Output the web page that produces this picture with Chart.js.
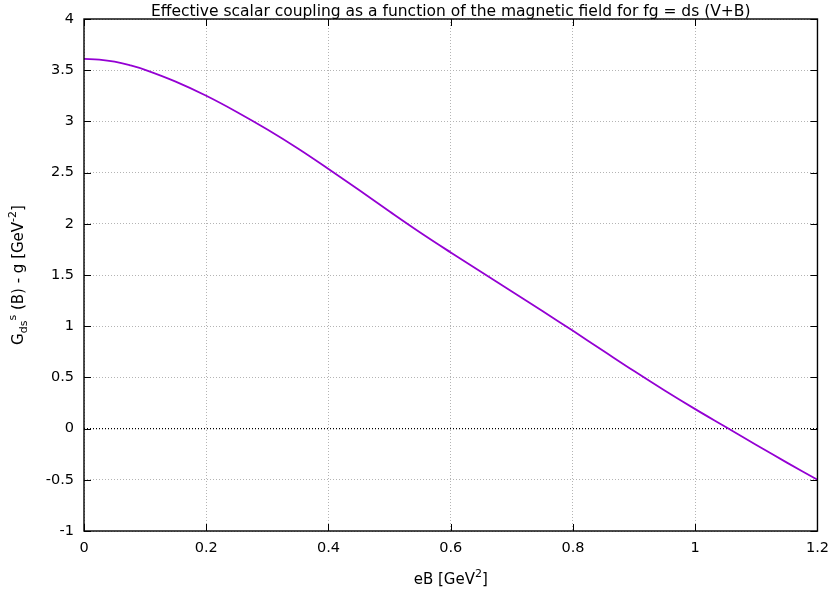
<!DOCTYPE html>
<html>
<head>
<meta charset="utf-8">
<script src="https://cdn.jsdelivr.net/npm/chart.js@4"></script>
<style>
  html, body { margin: 0; padding: 0; background: #fff; }
  #wrap { width: 838px; height: 594px; }
</style>
</head>
<body>
<div id="wrap"><canvas id="grafico"></canvas></div>
<script>
// eB em GeV^2 e acoplamento efetivo G - g em GeV^-2
const ebValues = [0, 0.025, 0.05, 0.075, 0.1, 0.15, 0.2, 0.25, 0.3, 0.35, 0.4, 0.45, 0.5, 0.55,
    0.6, 0.65, 0.7, 0.75, 0.8, 0.85, 0.9, 0.95, 1.0, 1.05, 1.1, 1.15, 1.2];
const couplingValues = [3.61, 3.603, 3.583, 3.548, 3.503, 3.388, 3.25, 3.092, 2.92, 2.735, 2.535, 2.33, 2.12, 1.915,
    1.72, 1.53, 1.34, 1.148, 0.955, 0.758, 0.562, 0.372, 0.19, 0.015, -0.16, -0.332, -0.5];
const xTickValues = [0, 0.2, 0.4, 0.6, 0.8, 1.0, 1.2];
const yTickValues = [-1, -0.5, 0, 0.5, 1, 1.5, 2, 2.5, 3, 3.5, 4];

const titulo = 'Effective scalar coupling as a function of the magnetic field for fg = ds (V+B)';
// texto com sub/sobrescritos: [texto, deslocamento]
const rotuloY = [['G', 0], ['ds', 1], ['s', -1], [' (B) - g [GeV', 0], ['-2', -1], [']', 0]];
const rotuloX = [['eB [GeV', 0], ['2', -1], [']', 0]];

const FONTE = '"DejaVu Sans", sans-serif';
const TAM = 15, TAM_IND = 11, TAM_TICK = 14.5, TAM_TITULO = 15.5;

function larguraRico(ctx, partes){
    let w = 0;
    partes.forEach(([t, d])=>{
        ctx.font = (d ? TAM_IND : TAM) + 'px ' + FONTE;
        w += ctx.measureText(t).width;
    });
    return w;
}
function desenhaRico(ctx, partes, x, y){
    let cx = x - larguraRico(ctx, partes)/2;
    partes.forEach(([t, d])=>{
        ctx.font = (d ? TAM_IND : TAM) + 'px ' + FONTE;
        ctx.fillText(t, cx, y + (d > 0 ? 4 : d < 0 ? -7 : 0));
        cx += ctx.measureText(t).width;
    });
}

const molduraPlugin = {
    id: 'moldura',
    afterDatasetsDraw(chart){
        const {ctx, chartArea: a, scales} = chart;
        ctx.save();
        ctx.strokeStyle = '#000';
        ctx.lineWidth = 1.4;
        ctx.strokeRect(a.left, a.top, a.right - a.left, a.bottom - a.top);
        ctx.lineWidth = 1;
        ctx.beginPath();
        xTickValues.forEach(v=>{
            const px = Math.round(scales.x.getPixelForValue(v)) + 0.5;
            ctx.moveTo(px, a.bottom); ctx.lineTo(px, a.bottom - 7);
            ctx.moveTo(px, a.top); ctx.lineTo(px, a.top + 7);
        });
        yTickValues.forEach(v=>{
            const py = Math.round(scales.y.getPixelForValue(v)) + 0.5;
            ctx.moveTo(a.left, py); ctx.lineTo(a.left + 7, py);
            ctx.moveTo(a.right, py); ctx.lineTo(a.right - 7, py);
        });
        ctx.stroke();
        ctx.restore();
    },
    afterDraw(chart){
        const {ctx, chartArea: a} = chart;
        const cx = (a.left + a.right)/2;
        ctx.save();
        ctx.fillStyle = '#000';
        ctx.textBaseline = 'alphabetic';
        ctx.textAlign = 'left';
        ctx.font = TAM_TITULO + 'px ' + FONTE;
        const wt = ctx.measureText(titulo).width;
        ctx.fillText(titulo, cx - wt/2, 16);
        desenhaRico(ctx, rotuloX, cx, 584);
        ctx.translate(23, (a.top + a.bottom)/2);
        ctx.rotate(-Math.PI/2);
        desenhaRico(ctx, rotuloY, 0, 0);
        ctx.restore();
    }
};

const formataTick = v => String(+Number(v).toFixed(2));
const corGrade = c => (c.tick && c.tick.value === 0) ? '#000' : '#b4b4b4';
const larguraGrade = c => (c.tick && c.tick.value === 0) ? 1.2 : 1;

new Chart(document.getElementById('grafico'), {
    type: 'line',
    data: {
        datasets: [{
            data: ebValues.map((x, i)=>({x, y: couplingValues[i]})),
            borderColor: '#9400d3',
            borderWidth: 1.8,
            pointRadius: 0,
            fill: false,
            tension: 0.4
        }]
    },
    options: {
        responsive: true,
        maintainAspectRatio: false,
        animation: false,
        layout: {padding: {top: 19, right: 17, left: 0, bottom: 0}},
        plugins: {legend: {display: false}, tooltip: {enabled: false}},
        scales: {
            x: {
                type: 'linear', min: 0, max: 1.2,
                afterBuildTicks: s => { s.ticks = xTickValues.map(value=>({value})); },
                afterFit: s => { s.height = 63; },
                ticks: {callback: formataTick, color: '#000', font: {family: FONTE, size: TAM_TICK}, padding: 9, maxRotation: 0},
                grid: {color: '#b4b4b4', lineWidth: 1, drawTicks: false, borderDash: [1, 2]},
                border: {display: false, dash: [1, 2]}
            },
            y: {
                type: 'linear', min: -1, max: 4,
                afterBuildTicks: s => { s.ticks = yTickValues.map(value=>({value})); },
                afterFit: s => { s.width = 84; },
                ticks: {callback: formataTick, color: '#000', font: {family: FONTE, size: TAM_TICK}, padding: 10},
                grid: {color: corGrade, lineWidth: larguraGrade, drawTicks: false, borderDash: [1, 2]},
                border: {display: false, dash: [1, 2]}
            }
        }
    },
    plugins: [molduraPlugin]
});
</script>
</body>
</html>
